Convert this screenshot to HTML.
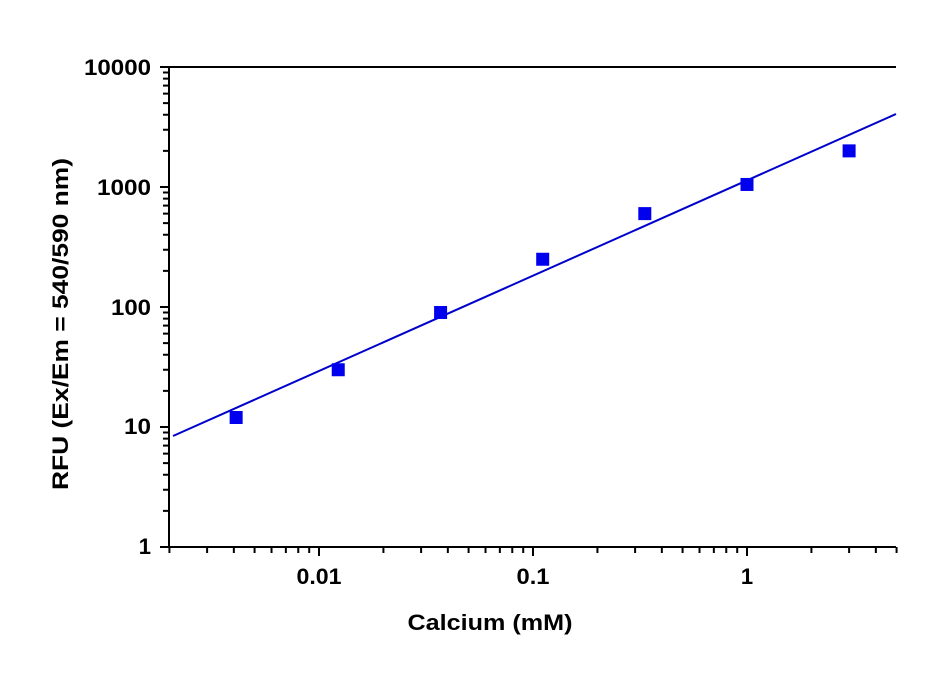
<!DOCTYPE html>
<html><head><style>body{margin:0;background:#fff}</style></head><body>
<svg width="952" height="670" xmlns="http://www.w3.org/2000/svg" font-family="Liberation Sans, Arial, sans-serif" font-weight="bold">
<rect width="952" height="670" fill="#fff"/>
<g stroke="#000" stroke-width="2" fill="none">
<line x1="169" y1="67" x2="896" y2="67"/>
<line x1="169" y1="66" x2="169" y2="548"/>
<line x1="160" y1="547" x2="896" y2="547"/>
</g>
<g id="ticks" stroke="#000" stroke-width="2"></g>
<g font-size="22" text-anchor="end" fill="#000" lengthAdjust="spacingAndGlyphs">
<text x="151" y="75" textLength="67" lengthAdjust="spacingAndGlyphs">10000</text>
<text x="151" y="195" textLength="54" lengthAdjust="spacingAndGlyphs">1000</text>
<text x="151" y="315" textLength="40" lengthAdjust="spacingAndGlyphs">100</text>
<text x="151" y="434" textLength="27" lengthAdjust="spacingAndGlyphs">10</text>
<text x="151" y="554">1</text>
</g>
<g font-size="22" text-anchor="middle" fill="#000">
<text x="319" y="584" textLength="45" lengthAdjust="spacingAndGlyphs">0.01</text>
<text x="533" y="584" textLength="33" lengthAdjust="spacingAndGlyphs">0.1</text>
<text x="747" y="584">1</text>
<text x="490" y="630" textLength="165" lengthAdjust="spacingAndGlyphs">Calcium (mM)</text>
<text transform="translate(68,324) rotate(-90)" textLength="332" lengthAdjust="spacingAndGlyphs">RFU (Ex/Em = 540/590 nm)</text>
</g>
<line x1="173" y1="436" x2="896" y2="114" stroke="#0000cc" stroke-width="2"/>
<g fill="#0000ee" id="pts"></g>
<script>
var t=document.getElementById('ticks'),ns='http://www.w3.org/2000/svg';
function L(a,b,c,d){var l=document.createElementNS(ns,'line');l.setAttribute('x1',a);l.setAttribute('y1',b);l.setAttribute('x2',c);l.setAttribute('y2',d);t.appendChild(l);}
function X(v){return 319+214*(Math.log10(v)+2);}
function Y(v){return 547-120*Math.log10(v);}
for(var e=0;e<4;e++)for(var k=2;k<10;k++){var y=Y(k*Math.pow(10,e));L(163,y,169,y);}
for(var e=0;e<5;e++){L(160,Y(Math.pow(10,e)),169,Y(Math.pow(10,e)));}
for(var e=-3;e<1;e++)for(var k=1;k<10;k++){var v=k*Math.pow(10,e);var x=X(v);if(x<168||x>897)continue;L(x,547,x,k==1?556:553);}
var p=document.getElementById('pts');
[[0.0041,12],[0.0123,30],[0.037,90],[0.111,250],[0.333,600],[1,1050],[3,2000]].forEach(function(d){var r=document.createElementNS(ns,'rect');r.setAttribute('x',X(d[0])-6.5);r.setAttribute('y',Y(d[1])-6.5);r.setAttribute('width',13);r.setAttribute('height',13);p.appendChild(r);});
</script>
</svg>
</body></html>
